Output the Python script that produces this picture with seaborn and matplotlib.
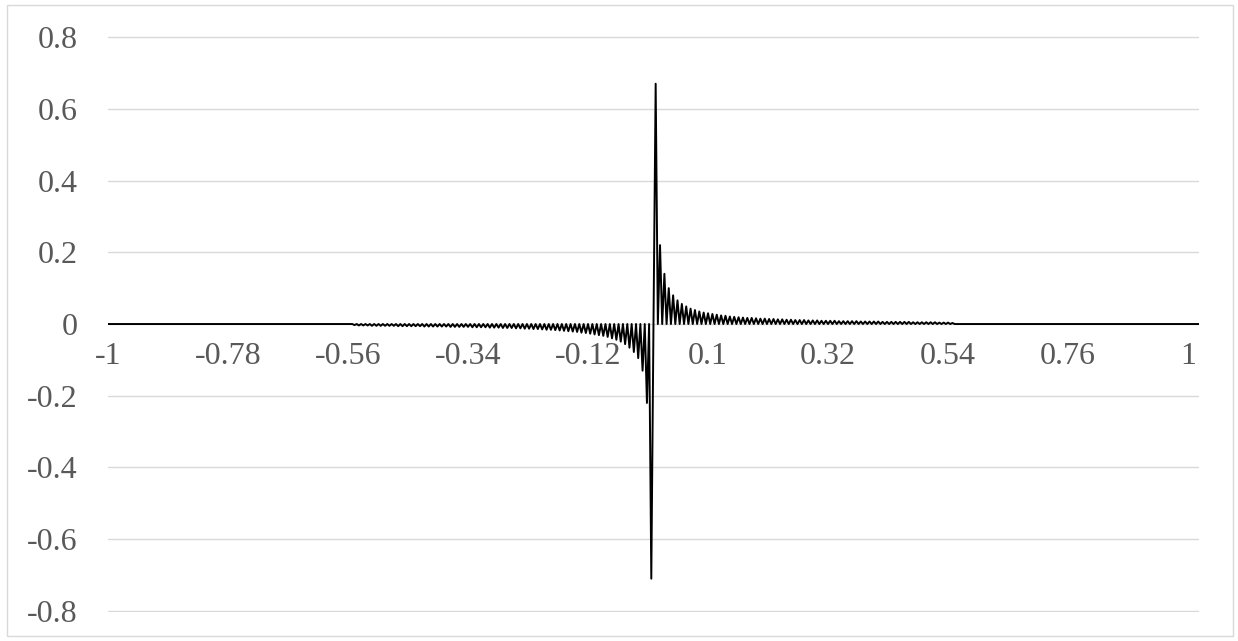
"""
plot.py
Линейный график в стиле Excel: затухающие колебания вокруг нуля.
"""
import numpy as np
import matplotlib
matplotlib.use("Agg")
import matplotlib.pyplot as plt
import seaborn as sns
from matplotlib.patches import Rectangle


# 1. Данные (шаг по категориям 0.004, x от -1 до 1)

# ровный участок слева (x от -1 до -0.556)
y_flat_left = [
    0, 0, 0, 0, 0, 0, 0, 0, 0, 0, 0, 0, 0, 0, 0, 0, 0, 0, 0, 0, 0, 0, 0, 0, 0, 0, 0, 0,
    0, 0, 0, 0, 0, 0, 0, 0, 0, 0, 0, 0, 0, 0, 0, 0, 0, 0, 0, 0, 0, 0, 0, 0, 0, 0, 0, 0,
    0, 0, 0, 0, 0, 0, 0, 0, 0, 0, 0, 0, 0, 0, 0, 0, 0, 0, 0, 0, 0, 0, 0, 0, 0, 0, 0, 0,
    0, 0, 0, 0, 0, 0, 0, 0, 0, 0, 0, 0, 0, 0, 0, 0, 0, 0, 0, 0, 0, 0, 0, 0, 0, 0, 0, 0,
]

# левое крыло: отрицательные пики, к нулю растут по модулю
y_left_wing = [
    0, -0.003, 0, -0.004, 0, -0.004, 0, -0.004, 0, -0.005, 0, -0.005, 0, -0.005, 0, -0.005, 0, -0.005,
    0, -0.005, 0, -0.006, 0, -0.006, 0, -0.006, 0, -0.006, 0, -0.006, 0, -0.006, 0, -0.007, 0, -0.007, 0, -0.007,
    0, -0.007, 0, -0.007, 0, -0.007, 0, -0.008, 0, -0.008, 0, -0.008, 0, -0.008, 0, -0.008, 0, -0.009, 0, -0.009,
    0, -0.009, 0, -0.009, 0, -0.010, 0, -0.010, 0, -0.010, 0, -0.011, 0, -0.011, 0, -0.011, 0, -0.012, 0, -0.012,
    0, -0.013, 0, -0.013, 0, -0.014, 0, -0.014, 0, -0.015, 0, -0.016, 0, -0.016, 0, -0.017, 0, -0.018, 0, -0.019,
    0, -0.020, 0, -0.021, 0, -0.022, 0, -0.024, 0, -0.025, 0, -0.027, 0, -0.029, 0, -0.031, 0, -0.033, 0, -0.036,
    0, -0.040, 0, -0.044, 0, -0.049, 0, -0.056, 0, -0.066, 0, -0.078, 0, -0.095, 0, -0.13, 0, -0.22, 0, -0.71,
]

y_center = [0]

# правое крыло: положительные пики, затухают
y_right_wing = [
    0.67, 0, 0.22, 0, 0.14, 0, 0.10, 0, 0.08, 0, 0.066, 0, 0.056, 0, 0.049, 0, 0.043, 0, 0.039, 0,
    0.035, 0, 0.032, 0, 0.030, 0, 0.028, 0, 0.026, 0, 0.024, 0, 0.023, 0, 0.021, 0, 0.020, 0, 0.019, 0,
    0.018, 0, 0.017, 0, 0.017, 0, 0.016, 0, 0.015, 0, 0.015, 0, 0.014, 0, 0.014, 0, 0.013, 0, 0.013, 0,
    0.012, 0, 0.012, 0, 0.011, 0, 0.011, 0, 0.011, 0, 0.010, 0, 0.010, 0, 0.010, 0, 0.009, 0, 0.009, 0,
    0.009, 0, 0.009, 0, 0.008, 0, 0.008, 0, 0.008, 0, 0.008, 0, 0.008, 0, 0.007, 0, 0.007, 0, 0.007, 0,
    0.007, 0, 0.007, 0, 0.006, 0, 0.006, 0, 0.006, 0, 0.006, 0, 0.006, 0, 0.006, 0, 0.006, 0, 0.005, 0,
    0.005, 0, 0.005, 0, 0.005, 0, 0.005, 0, 0.005, 0, 0.004, 0, 0.004, 0, 0.004, 0, 0.003, 0,
]

# ровный участок справа (x от 0.556 до 1)
y_flat_right = [
    0, 0, 0, 0, 0, 0, 0, 0, 0, 0, 0, 0, 0, 0, 0, 0, 0, 0, 0, 0, 0, 0, 0, 0, 0, 0, 0, 0,
    0, 0, 0, 0, 0, 0, 0, 0, 0, 0, 0, 0, 0, 0, 0, 0, 0, 0, 0, 0, 0, 0, 0, 0, 0, 0, 0, 0,
    0, 0, 0, 0, 0, 0, 0, 0, 0, 0, 0, 0, 0, 0, 0, 0, 0, 0, 0, 0, 0, 0, 0, 0, 0, 0, 0, 0,
    0, 0, 0, 0, 0, 0, 0, 0, 0, 0, 0, 0, 0, 0, 0, 0, 0, 0, 0, 0, 0, 0, 0, 0, 0, 0, 0, 0,
]

# подписи оси категорий (каждая 55-я категория)
x_tick_labels = ["-1", "-0.78", "-0.56", "-0.34", "-0.12", "0.1", "0.32", "0.54", "0.76", "1"]
label_every = 55

y_tick_values = [-0.8, -0.6, -0.4, -0.2, 0, 0.2, 0.4, 0.6, 0.8]
y_tick_labels = ["-0.8", "-0.6", "-0.4", "-0.2", "0", "0.2", "0.4", "0.6", "0.8"]


def build_series():
    """Склеивает участки в один ряд значений."""
    y = y_flat_left + y_left_wing + y_center + y_right_wing + y_flat_right
    return np.arange(len(y)), np.array(y, dtype=float)


def plot_chart(x, y):
    """Рисует график и сохраняет в out.png."""
    sns.set_style("white")
    plt.rcParams["font.family"] = ["Liberation Serif", "DejaVu Serif"]

    fig = plt.figure(figsize=(12.38, 6.41), dpi=100)
    ax = fig.add_axes([0.0872, 0.0452, 0.8813, 0.8986])

    # сетка по Y
    ax.set_axisbelow(True)
    ax.yaxis.grid(True, color="#d9d9d9", linewidth=1.0)
    ax.xaxis.grid(False)

    sns.lineplot(x=x, y=y, color="black", linewidth=1.4, ax=ax)

    ax.set_xlim(0, len(y) - 1)
    ax.set_ylim(-0.803, 0.803)

    ax.set_yticks(y_tick_values)
    ax.set_yticklabels(y_tick_labels)
    ax.set_xticks(np.arange(len(x_tick_labels)) * label_every)
    ax.set_xticklabels(x_tick_labels)

    # подписи категорий под нулевой линией
    ax.spines["bottom"].set_position(("data", 0))
    for side in ["top", "right", "left", "bottom"]:
        ax.spines[side].set_visible(False)

    ax.tick_params(axis="x", length=0, pad=13, labelsize=23, colors="#595959")
    ax.tick_params(axis="y", length=0, pad=22, labelsize=23, colors="#595959")
    ax.set_xlabel("")
    ax.set_ylabel("")

    # рамка области диаграммы
    fig.patches.append(Rectangle((0.0057, 0.0078), 0.9903, 0.9844,
                                 transform=fig.transFigure, fill=False,
                                 edgecolor="#d9d9d9", linewidth=1.0))

    fig.savefig("out.png", dpi=100)


def main():
    x, y = build_series()
    plot_chart(x, y)


if __name__ == "__main__":
    main()
